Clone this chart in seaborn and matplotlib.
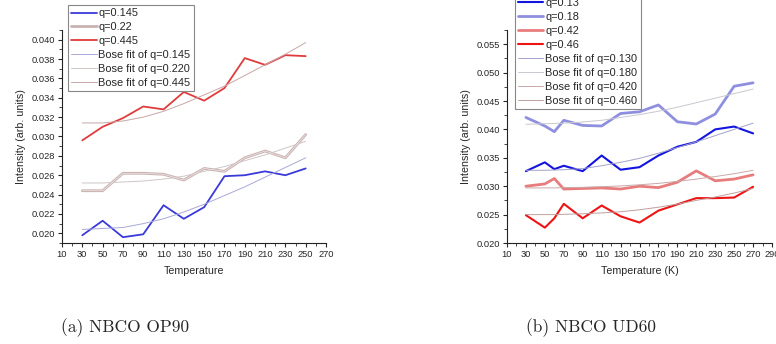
import numpy as np
import pandas as pd
import matplotlib
matplotlib.use("Agg")
import matplotlib.pyplot as plt
import seaborn as sns
from matplotlib.ticker import MultipleLocator, FixedLocator

# ---- data: (a) NBCO OP90 ----
temp_a = [30, 50, 70, 90, 110, 130, 150, 170, 190, 210, 230, 250]
q145 = [0.0198, 0.0213, 0.0196, 0.0199, 0.0229, 0.0215, 0.0227, 0.0259, 0.0260, 0.0264, 0.0260, 0.0267]
q22 = [0.0244, 0.0244, 0.0262, 0.0262, 0.0261, 0.0255, 0.0267, 0.0264, 0.0278, 0.0285, 0.0278, 0.0302]
q445 = [0.0296, 0.0310, 0.0319, 0.0331, 0.0328, 0.0346, 0.0337, 0.0350, 0.0381, 0.0374, 0.0384, 0.0383]
fit145 = [0.0204, 0.0205, 0.0206, 0.0210, 0.0215, 0.0222, 0.0230, 0.0239, 0.0248, 0.0258, 0.0268, 0.0278]
fit220 = [0.0252, 0.0252, 0.0253, 0.0254, 0.0256, 0.0259, 0.0264, 0.0269, 0.0275, 0.0281, 0.0288, 0.0295]
fit445 = [0.0314, 0.0314, 0.0316, 0.0320, 0.0326, 0.0334, 0.0343, 0.0352, 0.0363, 0.0374, 0.0385, 0.0397]

# ---- data: (b) NBCO UD60 ----
temp_b = [30, 50, 60, 70, 90, 110, 130, 150, 170, 190, 210, 230, 250, 270]
q13 = [0.03265, 0.0342, 0.0330, 0.0336, 0.03265, 0.0354, 0.0329, 0.03335, 0.0354, 0.03695, 0.0378, 0.0400, 0.0405, 0.0393]
q18 = [0.0421, 0.0406, 0.0396, 0.0416, 0.0407, 0.0406, 0.0428, 0.0431, 0.0443, 0.04135, 0.04095, 0.0427, 0.0476, 0.0482]
q42 = [0.0300, 0.0304, 0.03135, 0.0295, 0.0296, 0.0297, 0.0295, 0.0300, 0.02975, 0.0307, 0.0327, 0.03095, 0.03125, 0.0320]
q46 = [0.0249, 0.0227, 0.02435, 0.0269, 0.02435, 0.0266, 0.0247, 0.0236, 0.0257, 0.0268, 0.0279, 0.0279, 0.0280, 0.0299]
fit130 = [0.0328, 0.0328, 0.03285, 0.0329, 0.0331, 0.0336, 0.0342, 0.0349, 0.0358, 0.0368, 0.0378, 0.0389, 0.0400, 0.0411]
fit180 = [0.0409, 0.0410, 0.04105, 0.0411, 0.0413, 0.0416, 0.0421, 0.0426, 0.0432, 0.0439, 0.0447, 0.0455, 0.0463, 0.0471]
fit420 = [0.0297, 0.0297, 0.0297, 0.02975, 0.0298, 0.0299, 0.03005, 0.03025, 0.0305, 0.03085, 0.03125, 0.0317, 0.0322, 0.0328]
fit460 = [0.0250, 0.0250, 0.0250, 0.02505, 0.02515, 0.0253, 0.0255, 0.02585, 0.0263, 0.02685, 0.0275, 0.0281, 0.0288, 0.0296]

sns.set_style("ticks")
plt.rcParams["font.family"] = ["Liberation Sans", "DejaVu Sans"]
plt.rcParams["font.size"] = 7

fig = plt.figure(figsize=(7.76, 3.44), dpi=100)
ax1 = fig.add_axes([62 / 776, 1 - 243 / 344, 264 / 776, 213 / 344])
ax2 = fig.add_axes([507 / 776, 1 - 243 / 344, 265 / 776, 213 / 344])

df_a = pd.DataFrame({"T": temp_a, "q145": q145, "q22": q22, "q445": q445,
                     "fit145": fit145, "fit220": fit220, "fit445": fit445})
df_b = pd.DataFrame({"T": temp_b, "q13": q13, "q18": q18, "q42": q42, "q46": q46,
                     "fit130": fit130, "fit180": fit180, "fit420": fit420, "fit460": fit460})

# left panel
sns.lineplot(data=df_a, x="T", y="q145", ax=ax1, color="#3a3ad8", lw=1.3, label="q=0.145")
sns.lineplot(data=df_a, x="T", y="q22", ax=ax1, color="#c9b2b2", lw=2.0, label="q=0.22")
sns.lineplot(data=df_a, x="T", y="q445", ax=ax1, color="#e03c3c", lw=1.3, label="q=0.445")
sns.lineplot(data=df_a, x="T", y="fit145", ax=ax1, color="#a8a8d8", lw=0.7, label="Bose fit of q=0.145")
sns.lineplot(data=df_a, x="T", y="fit220", ax=ax1, color="#cfc6c6", lw=0.7, label="Bose fit of q=0.220")
sns.lineplot(data=df_a, x="T", y="fit445", ax=ax1, color="#c8a6a6", lw=0.7, label="Bose fit of q=0.445")
# lighter core of the q=0.22 curve
ax1.plot(df_a["T"], df_a["q22"], color="#f3e8e8", lw=0.5)

# right panel
sns.lineplot(data=df_b, x="T", y="q13", ax=ax2, color="#1414e0", lw=1.5, label="q=0.13")
sns.lineplot(data=df_b, x="T", y="q18", ax=ax2, color="#8f8fe0", lw=2.0, label="q=0.18")
sns.lineplot(data=df_b, x="T", y="q42", ax=ax2, color="#e87c7c", lw=2.0, label="q=0.42")
sns.lineplot(data=df_b, x="T", y="q46", ax=ax2, color="#ee1414", lw=1.5, label="q=0.46")
sns.lineplot(data=df_b, x="T", y="fit130", ax=ax2, color="#a2a2cc", lw=0.7, label="Bose fit of q=0.130")
sns.lineplot(data=df_b, x="T", y="fit180", ax=ax2, color="#c8c8d0", lw=0.7, label="Bose fit of q=0.180")
sns.lineplot(data=df_b, x="T", y="fit420", ax=ax2, color="#c8a8a8", lw=0.7, label="Bose fit of q=0.420")
sns.lineplot(data=df_b, x="T", y="fit460", ax=ax2, color="#c0a0a0", lw=0.7, label="Bose fit of q=0.460")

for ax, xmax, ylim, ystep, xlabel in [
        (ax1, 270, (0.019, 0.041), 0.002, "Temperature"),
        (ax2, 290, (0.020, 0.0575), 0.005, "Temperature (K)")]:
    ax.set_xlim(10, xmax)
    ax.set_ylim(*ylim)
    ax.xaxis.set_major_locator(FixedLocator(np.arange(10, xmax + 1, 20)))
    ax.xaxis.set_minor_locator(FixedLocator(np.arange(20, xmax, 20)))
    ax.yaxis.set_major_locator(MultipleLocator(ystep))
    ax.yaxis.set_minor_locator(MultipleLocator(ystep / 2))
    ax.yaxis.set_major_formatter(plt.FuncFormatter(lambda v, p: "{:.3f}".format(v)))
    ax.tick_params(which="major", length=3, width=0.8, labelsize=6.7, pad=2)
    ax.tick_params(which="minor", length=2, width=0.6)
    ax.set_xlabel(xlabel, fontsize=7.7, labelpad=5)
    ax.set_ylabel("Intensity (arb. units)", fontsize=7.7, labelpad=4)
    sns.despine(ax=ax)
    for s in ax.spines.values():
        s.set_linewidth(0.8)
        s.set_color("#222222")

leg_kw = dict(loc="upper left", fontsize=7.9, frameon=True, fancybox=False,
              edgecolor="#888888", framealpha=1, borderaxespad=0, borderpad=0.3,
              labelspacing=0.36, handlelength=2.3, handletextpad=0.15)
l1 = ax1.legend(bbox_to_anchor=(0.023, 1.117), **leg_kw)
l2 = ax2.legend(bbox_to_anchor=(0.030, 1.165), **leg_kw)
for leg in (l1, l2):
    leg.get_frame().set_linewidth(0.8)
    leg.set_clip_on(False)

fig.text(125 / 776, 1 - 328 / 344, "(a) NBCO OP90", family="cmr10", fontsize=12.5,
         ha="center", va="center")
fig.text(591 / 776, 1 - 328 / 344, "(b) NBCO UD60", family="cmr10", fontsize=12.5,
         ha="center", va="center")

fig.savefig("out.png", dpi=100)
